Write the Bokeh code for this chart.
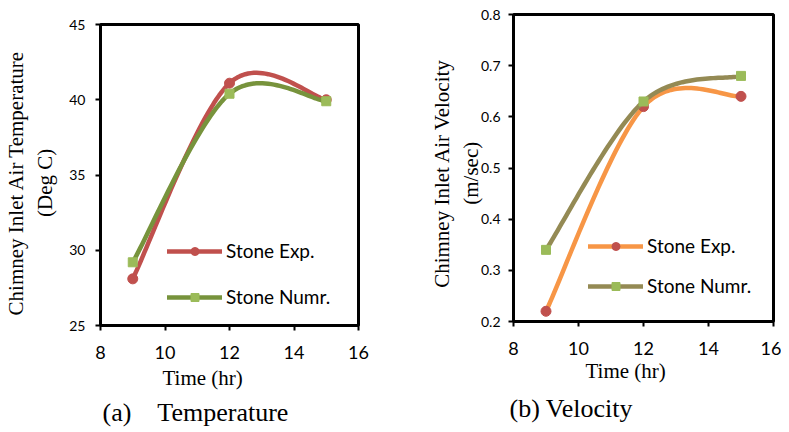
import numpy as np
from bokeh.plotting import figure
from bokeh.models import Range1d, FixedTicker, Legend, LegendItem, Title
from bokeh.layouts import row, column
from bokeh.embed import file_html
from bokeh.resources import INLINE

# ---- data ----
hours = [9, 12, 15]
temp_exp = [28.1, 41.1, 40.0]
temp_num = [29.2, 40.4, 39.9]
vel_exp = [0.22, 0.62, 0.64]
vel_num = [0.34, 0.63, 0.68]
x_ticks = [8, 10, 12, 14, 16]
temp_ticks = [25, 30, 35, 40, 45]
vel_ticks = [0.2, 0.3, 0.4, 0.5, 0.6, 0.7, 0.8]
series_labels = ["Stone Exp.", "Stone Numr."]

NB = "\u00a0"


def smooth(xs, ys, n=40):
    """Excel-like smoothed line: cubic Bezier through the data points."""
    P = np.column_stack([xs, ys]).astype(float)
    pts = [P[0]]
    t = np.linspace(0, 1, n)[1:, None]
    for i in range(len(P) - 1):
        p0 = P[max(i - 1, 0)]
        p1 = P[i]
        p2 = P[i + 1]
        p3 = P[min(i + 2, len(P) - 1)]
        c1 = p1 + (p2 - p0) / 6
        c2 = p2 - (p3 - p1) / 6
        seg = (1 - t) ** 3 * p1 + 3 * (1 - t) ** 2 * t * c1 + 3 * (1 - t) * t ** 2 * c2 + t ** 3 * p2
        pts.extend(seg)
    pts = np.array(pts)
    return pts[:, 0], pts[:, 1]


def make_fig(width, left, right, top, bottom, yr, yticks, ytick_standoff, ylabel, ylabel_standoff):
    p = figure(width=width, height=432, x_range=Range1d(8, 16), y_range=Range1d(*yr),
               output_backend="svg", toolbar_location=None,
               min_border_left=left, min_border_right=right,
               min_border_top=top, min_border_bottom=bottom)
    p.xgrid.visible = False
    p.ygrid.visible = False
    p.outline_line_color = "black"
    p.outline_line_width = 3
    p.outline_line_alpha = 1
    p.xaxis.ticker = FixedTicker(ticks=x_ticks)
    p.yaxis.ticker = FixedTicker(ticks=yticks)
    for ax in (p.xaxis[0], p.yaxis[0]):
        ax.axis_line_width = 3
        ax.axis_line_color = "black"
        ax.major_tick_line_width = 2
        ax.major_tick_line_color = "black"
        ax.major_tick_out = 5
        ax.major_tick_in = 0
        ax.minor_tick_line_color = None
        ax.major_label_text_font = "Lato"
        ax.major_label_text_color = "black"
    p.xaxis.major_label_text_font_size = "18px"
    p.yaxis.major_label_text_font_size = "14px"
    p.xaxis.major_label_standoff = 15
    p.yaxis.major_label_standoff = ytick_standoff
    p.yaxis.axis_label = ylabel
    p.yaxis.axis_label_standoff = ylabel_standoff
    p.yaxis.axis_label_text_font = "Liberation Serif"
    p.yaxis.axis_label_text_font_size = "21px"
    p.yaxis.axis_label_text_font_style = "normal"
    p.yaxis.axis_label_text_color = "black"
    return p


def add_title(p, text, size, offset, standoff):
    p.add_layout(Title(text=text, align="left", offset=offset, standoff=standoff,
                       text_font="Liberation Serif", text_font_size=size,
                       text_font_style="normal", text_color="black"), "below")


def add_series(p, xs, ys, line_color, marker, marker_color, msize):
    sx, sy = smooth(xs, ys)
    ln = p.line(sx, sy, line_color=line_color, line_width=4.5, line_cap="round", line_join="round")
    sc = p.scatter(xs, ys, marker=marker, size=msize, fill_color=marker_color,
                   line_color=marker_color)
    return ln, sc


def add_legend(p, r_a, r_b, loc, spacing):
    leg = Legend(items=[LegendItem(label=series_labels[0], renderers=list(r_a)),
                        LegendItem(label=series_labels[1], renderers=list(r_b))],
                 location=loc, border_line_color=None, background_fill_alpha=0,
                 padding=0, margin=0, spacing=spacing, glyph_width=55, glyph_height=20,
                 label_height=20, label_standoff=4, label_text_font="Lato",
                 label_text_font_size="19px", label_text_color="black")
    p.add_layout(leg)


# ---- (a) Temperature ----
p1 = make_fig(400, 100, 42, 24, 107, (25, 45), temp_ticks, 10,
              "Chimney Inlet Air Temperature" + NB * 3 + "\n(Deg C)" + NB * 3, 9)
r1 = add_series(p1, hours, temp_exp, "#C0504D", "circle", "#C0504D", 10)
r2 = add_series(p1, hours, temp_num, "#77933C", "square", "#9BBB59", 9)
add_legend(p1, r1, r2, (67, 17), 23)
add_title(p1, "Time (hr)", "21px", 62, 5)
add_title(p1, "(a)" + NB * 4 + "Temperature", "26px", 2, 7)

# ---- (b) Velocity ----
p2 = make_fig(381, 113, 8, 14, 111, (0.2, 0.8), vel_ticks, 8,
              "Chimney Inlet Air Velocity" + NB * 2 + "\n(m/sec)" + NB * 2, -5)
r3 = add_series(p2, hours, vel_exp, "#F79646", "circle", "#C0504D", 10)
r4 = add_series(p2, hours, vel_num, "#948A54", "square", "#9BBB59", 9)
add_legend(p2, r3, r4, (75, 24), 17)
add_title(p2, "Time (hr)", "21px", 72, -2)
add_title(p2, "(b) Velocity", "26px", -4, 20)

layout = row(column(p1), column(p2), spacing=0)
open("out.html", "w").write(file_html(layout, INLINE))
